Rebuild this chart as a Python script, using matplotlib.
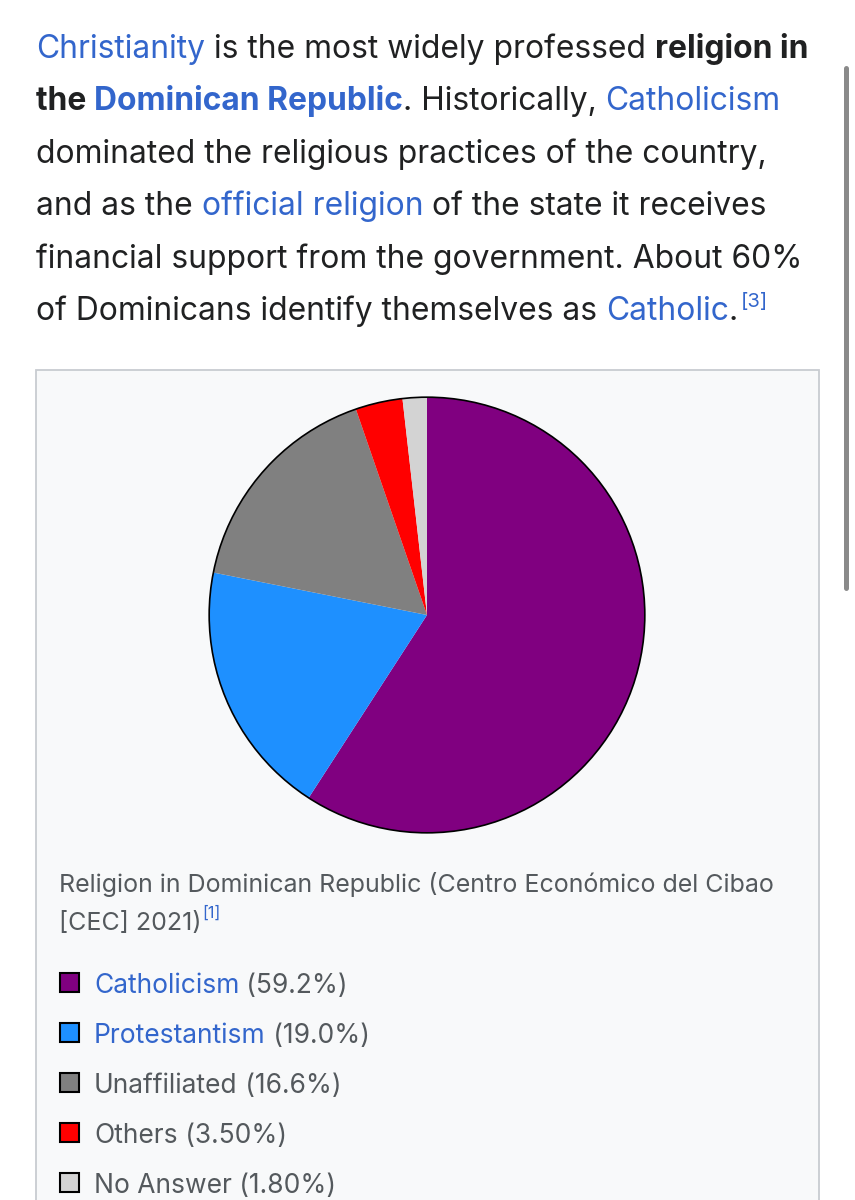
import matplotlib.pyplot as plt
from matplotlib.patches import Rectangle, Circle

# chart data
religions = ["Catholicism", "Protestantism", "Unaffiliated", "Others", "No Answer"]
shares = [59.2, 19.0, 16.6, 3.5, 1.8]
share_labels = ["59.2%", "19.0%", "16.6%", "3.50%", "1.80%"]
slice_colors = ["#800080", "#1E90FF", "#808080", "#FF0000", "#D3D3D3"]
is_link = [True, True, False, False, False]

caption_lines = ["Religion in Dominican Republic (Centro Económico del Cibao", "[CEC] 2021)"]

# paragraph: (text, color, bold)
TXT = "#202122"
LINK = "#3366cc"
GRAY = "#54595d"
paragraph = [
    [("Christianity", LINK, False), (" is the most widely professed ", TXT, False), ("religion in", TXT, True)],
    [("the ", TXT, True), ("Dominican Republic", LINK, True), (". Historically, ", TXT, False), ("Catholicism", LINK, False)],
    [("dominated the religious practices of the country,", TXT, False)],
    [("and as the ", TXT, False), ("official religion", LINK, False), (" of the state it receives", TXT, False)],
    [("financial support from the government. About 60%", TXT, False)],
    [("of Dominicans identify themselves as ", TXT, False), ("Catholic", LINK, False), (".", TXT, False)],
]

plt.rcParams['font.family'] = ['Inter', 'DejaVu Sans']

W, H = 855, 1200
fig = plt.figure(figsize=(W / 100, H / 100), dpi=100)
fig.patch.set_facecolor("white")
ax = fig.add_axes([0, 0, 1, 1])
ax.set_xlim(0, W)
ax.set_ylim(H, 0)
ax.axis("off")
renderer = fig.canvas.get_renderer()


def draw_line(segs, x, y, size):
    # draws pieces one after another, returns end x
    for s, c, b in segs:
        t = ax.text(x, y, s, color=c, fontsize=size, va="baseline", ha="left",
                    fontweight="bold" if b else "normal")
        bb = t.get_window_extent(renderer)
        x += bb.width
    return x


# paragraph
y = 58
for i, segs in enumerate(paragraph):
    xe = draw_line(segs, 36, y, 22.9)
    if i == len(paragraph) - 1:
        ax.text(xe + 3, y - 13, "[3]", color=LINK, fontsize=14.5, va="baseline")
    y += 52.4

# scrollbar
ax.plot([845.5, 845.5], [68, 588], color="#8a8a8a", lw=3.6, solid_capstyle="round")

# figure box
ax.add_patch(Rectangle((36, 370), 783, 860, facecolor="#f8f9fa", edgecolor="#c8ccd1", lw=1.3))

# pie
cx, cy, r = 427, 615, 220
pax = fig.add_axes([(cx - r) / W, 1 - (cy + r) / H, 2 * r / W, 2 * r / H])
pax.pie(shares, colors=slice_colors, startangle=90, counterclock=False,
        wedgeprops=dict(linewidth=0, antialiased=True))
pax.add_patch(Circle((0, 0), 1.0, fill=False, edgecolor="black", lw=1.2))
pax.set_xlim(-1.01, 1.01)
pax.set_ylim(-1.01, 1.01)
pax.set_aspect("equal")
pax.axis("off")

# caption
ax.text(59, 892, caption_lines[0], color=GRAY, fontsize=18, va="baseline")
t = ax.text(59, 930, caption_lines[1], color=GRAY, fontsize=18, va="baseline")
xe = 59 + t.get_window_extent(renderer).width
ax.text(xe + 1, 918, "[1]", color=LINK, fontsize=11.5, va="baseline")

# legend
ly = 993
for name, lab, col, lk in zip(religions, share_labels, slice_colors, is_link):
    ax.add_patch(Rectangle((60, ly - 20), 19, 19, facecolor=col, edgecolor="black", lw=1.5))
    draw_line([(name, LINK if lk else GRAY, False), (" (" + lab + ")", GRAY, False)], 94, ly, 19)
    ly += 50

fig.savefig("out.png", dpi=100, facecolor="white")
